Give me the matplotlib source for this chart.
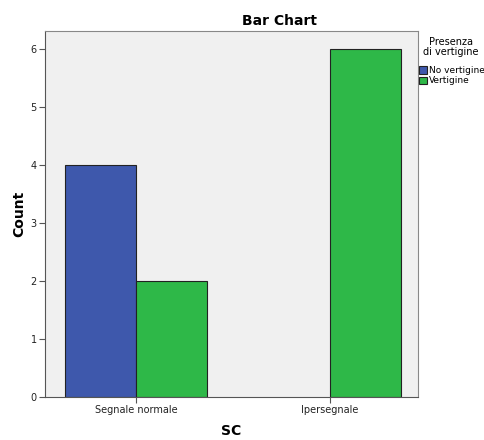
import numpy as np
import matplotlib
matplotlib.use("Agg")
from matplotlib import pyplot as plt
from matplotlib.patches import Patch

categories = ["Segnale normale", "Ipersegnale"]
groups = ["No vertigine", "Vertigine"]
no_vertigine = [4, 0]
vertigine = [2, 6]
yticks = [0, 1, 2, 3, 4, 5, 6]

colors = ["#3e58ac", "#2eb848"]

fig = plt.figure(figsize=(4.85, 4.4), dpi=100)
ax = fig.add_axes([0.093, 0.098, 0.769, 0.832])
ax.set_facecolor("#f0f0f0")

x = np.arange(len(categories))
w = 0.366
for i, (vals, off) in enumerate([(no_vertigine, -w / 2), (vertigine, w / 2)]):
    for xi, v in zip(x, vals):
        if v > 0:
            ax.bar(xi + off, v, width=w, color=colors[i], edgecolor="#222222", linewidth=0.8)

ax.set_xlim(-0.469, 1.454)
ax.set_ylim(0, 6.31)
ax.set_xticks(x)
ax.set_xticklabels(categories, fontsize=7, color="#222222")
ax.set_yticks(yticks)
ax.set_yticklabels([str(t) for t in yticks], fontsize=7, color="#222222")
ax.tick_params(axis="both", length=4, width=0.8, color="#555555", pad=2)
for s in ax.spines.values():
    s.set_color("#888888")
    s.set_linewidth(0.8)
ax.spines["left"].set_color("#555555")
ax.spines["bottom"].set_color("#555555")

ax.set_xlabel("SC", fontsize=10, fontweight="bold", labelpad=6)
ax.set_ylabel("Count", fontsize=10, fontweight="bold", labelpad=3)
fig.text(0.577, 0.968, "Bar Chart", ha="center", va="top", fontsize=10, fontweight="bold")

fig.text(0.93, 0.915, "Presenza\ndi vertigine", ha="center", va="top", fontsize=7, linespacing=0.95)
handles = [Patch(facecolor=c, edgecolor="#222222", linewidth=0.8) for c in colors]
fig.legend(handles, groups, loc="upper left", bbox_to_anchor=(0.862, 0.852), frameon=False,
           fontsize=6.5, handlelength=0.9, handleheight=0.9, handletextpad=0.2,
           labelspacing=0.15, borderpad=0.1, borderaxespad=0)

plt.savefig("out.png", dpi=100)
